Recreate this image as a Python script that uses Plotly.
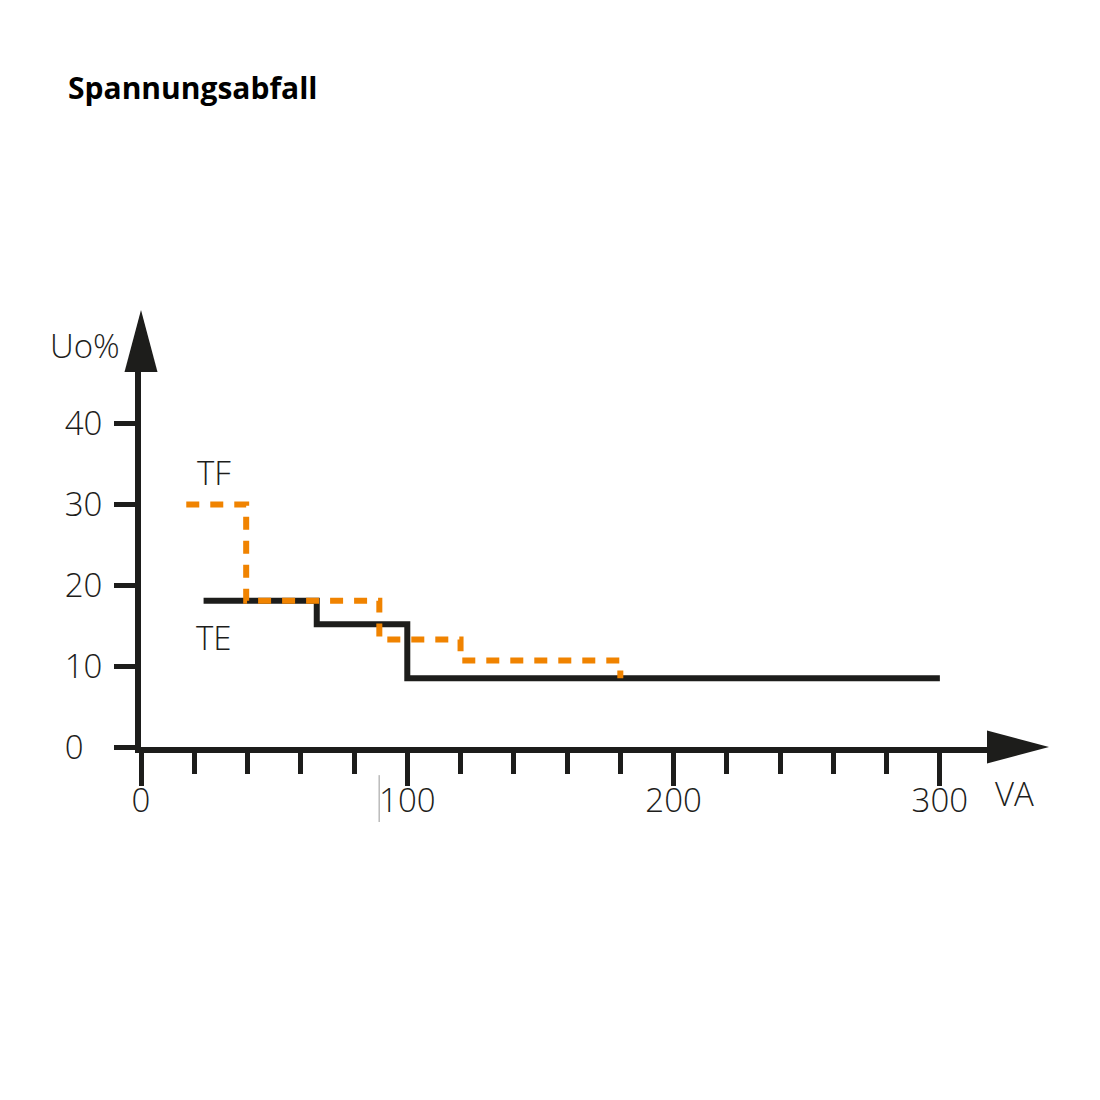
import plotly.graph_objects as go

# Spannungsabfall: Uo% ueber VA fuer TE und TF
te_va = [23.5, 66, 100, 300]
te_uo = [18.1, 15.2, 8.5, 8.5]

tf_va = [17, 39.5, 89.5, 120, 180]
tf_uo = [30, 18.1, 13.3, 10.7, 8.5]

x_ticks = [0, 100, 200, 300]
y_ticks = [0, 10, 20, 30, 40]
# Labels links buendig wie in der Vorlage (Ziffernleerzeichen hinter der 0)
y_tick_text = ["0\u2007", "10", "20", "30", "40"]

black = "#1d1d1b"
orange = "#f08300"
font = "Open Sans"

fig = go.Figure()

fig.add_trace(go.Scatter(x=te_va, y=te_uo, mode="lines", line_shape="hv",
                         line=dict(color=black, width=6), name="TE"))
fig.add_trace(go.Scatter(x=tf_va, y=tf_uo, mode="lines", line_shape="hv",
                         line=dict(color=orange, width=6, dash="13px,11px"), name="TF"))

# Pfeilspitzen an den Achsen
fig.add_shape(type="path", xref="paper", yref="paper", xsizemode="pixel", ysizemode="pixel",
              xanchor=0, yanchor=1, path="M -16.5,0 L 16.5,0 L 0,62 Z",
              fillcolor=black, line=dict(width=0))
fig.add_shape(type="path", xref="paper", yref="paper", xsizemode="pixel", ysizemode="pixel",
              xanchor=1, yanchor=0, path="M 0,16.5 L 0,-16.5 L 62,0 Z",
              fillcolor=black, line=dict(width=0))
# duenner grauer Strich aus der Vorlage
fig.add_shape(type="line", xref="paper", yref="paper", x0=0.2815, x1=0.2815, y0=-0.075, y1=-0.2,
              line=dict(color="#999999", width=1))

# Beschriftungen der Kurven (Daten) und der Achsen (paper)
for txt, x, y in [("TF", 27.4, 34), ("TE", 27.4, 13.6)]:
    fig.add_annotation(x=x, y=y, text=txt, showarrow=False,
                       font=dict(family=font, size=33, color=black, weight=300))
for txt, x, y in [("Uo%", -0.066, 1.071), ("VA", 1.0324, -0.123)]:
    fig.add_annotation(x=x, y=y, xref="paper", yref="paper", text=txt, showarrow=False,
                       xanchor="center", yanchor="middle",
                       font=dict(family=font, size=33, color=black, weight=300))

fig.update_layout(
    width=1100, height=1100,
    margin=dict(l=133, r=121, t=364, b=361),
    paper_bgcolor="white", plot_bgcolor="white",
    showlegend=False,
    title=dict(text="<b>Spannungsabfall</b>", x=60 / 1100, xref="container", xanchor="left",
               y=1 - 80 / 1100, yref="container", yanchor="middle",
               font=dict(family=font, size=30, color="black")),
)

fig.update_xaxes(range=[0, 317.7], showgrid=False, zeroline=False,
                 showline=True, linewidth=6, linecolor=black,
                 tickvals=x_ticks, ticks="outside", ticklen=33, tickwidth=5, tickcolor=black,
                 ticklabelstandoff=-14,
                 tickfont=dict(family=font, size=33, color=black, weight=300),
                 minor=dict(dtick=20, tick0=0, ticks="outside", ticklen=21, tickwidth=5,
                            tickcolor=black, showgrid=False))
fig.update_yaxes(range=[0, 46.4], showgrid=False, zeroline=False,
                 showline=True, linewidth=6, linecolor=black,
                 tickvals=y_ticks, ticktext=y_tick_text,
                 ticks="outside", ticklen=21, tickwidth=5, tickcolor=black,
                 ticklabelstandoff=5,
                 tickfont=dict(family=font, size=33, color=black, weight=300))

fig.write_html("out.html")
